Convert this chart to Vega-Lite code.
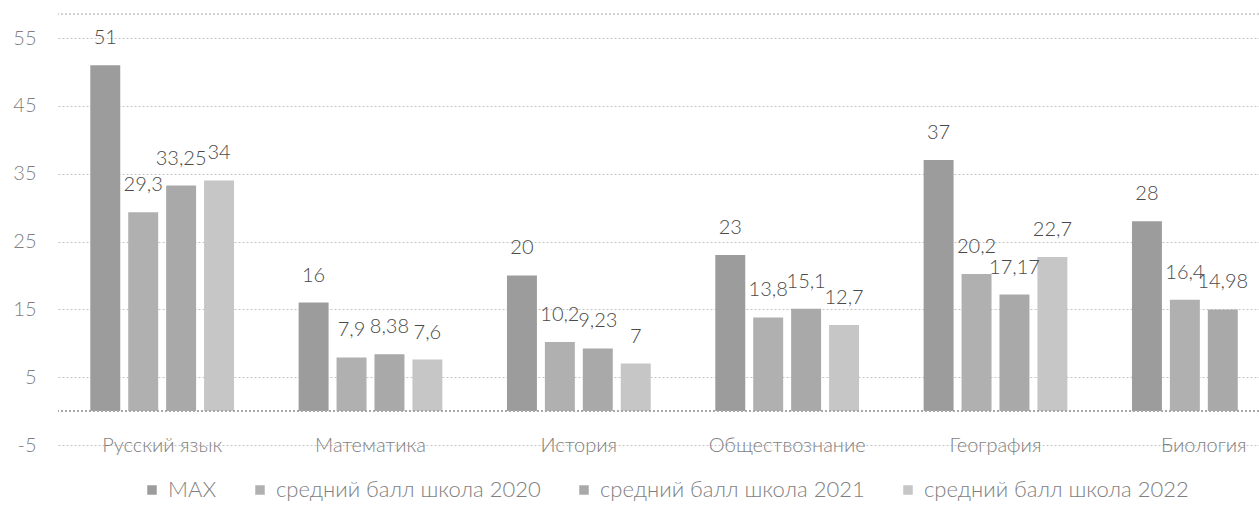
{
  "$schema": "https://vega.github.io/schema/vega-lite/v6.json",
  "width": 1201,
  "height": 407,
  "autosize": {"type": "none"},
  "padding": {"left": 58, "top": 38, "right": 0, "bottom": 67},
  "background": "white",
  "config": {
    "locale": {"number": {"decimal": ",", "thousands": " ", "grouping": [3], "currency": ["", ""], "minus": "-"}},
    "view": {"stroke": null},
    "font": "Lato",
    "text": {"fontWeight": 300},
    "axis": {"labelFontWeight": 300},
    "legend": {"labelFontWeight": 300}
  },
  "data": {"values": [
    {"subject": "Русский язык", "series": "MAX", "value": 51},
    {"subject": "Русский язык", "series": "средний балл школа 2020", "value": 29.3},
    {"subject": "Русский язык", "series": "средний балл школа 2021", "value": 33.25},
    {"subject": "Русский язык", "series": "средний балл школа 2022", "value": 34},
    {"subject": "Математика", "series": "MAX", "value": 16},
    {"subject": "Математика", "series": "средний балл школа 2020", "value": 7.9},
    {"subject": "Математика", "series": "средний балл школа 2021", "value": 8.38},
    {"subject": "Математика", "series": "средний балл школа 2022", "value": 7.6},
    {"subject": "История", "series": "MAX", "value": 20},
    {"subject": "История", "series": "средний балл школа 2020", "value": 10.2},
    {"subject": "История", "series": "средний балл школа 2021", "value": 9.23},
    {"subject": "История", "series": "средний балл школа 2022", "value": 7},
    {"subject": "Обществознание", "series": "MAX", "value": 23},
    {"subject": "Обществознание", "series": "средний балл школа 2020", "value": 13.8},
    {"subject": "Обществознание", "series": "средний балл школа 2021", "value": 15.1},
    {"subject": "Обществознание", "series": "средний балл школа 2022", "value": 12.7},
    {"subject": "География", "series": "MAX", "value": 37},
    {"subject": "География", "series": "средний балл школа 2020", "value": 20.2},
    {"subject": "География", "series": "средний балл школа 2021", "value": 17.17},
    {"subject": "География", "series": "средний балл школа 2022", "value": 22.7},
    {"subject": "Биология", "series": "MAX", "value": 28},
    {"subject": "Биология", "series": "средний балл школа 2020", "value": 16.4},
    {"subject": "Биология", "series": "средний балл школа 2021", "value": 14.98}
  ]},
  "layer": [
    {
      "mark": {"type": "rule", "color": "#d0d0d0", "strokeDash": [2, 2]},
      "encoding": {"y": {"datum": 58.5, "type": "quantitative"}}
    },
    {
      "mark": {"type": "bar"},
      "encoding": {
        "x": {
          "field": "subject", "type": "nominal", "sort": null,
          "scale": {"range": [0, 1250], "paddingInner": 0.31, "paddingOuter": 0.155},
          "axis": {"title": null, "labelFontSize": 20, "labelColor": "#7f7f7f", "ticks": false, "tickSize": 0, "domain": false, "labelPadding": 0, "labelBaseline": "middle", "labelAngle": 0, "grid": false}
        },
        "xOffset": {
          "field": "series", "type": "nominal",
          "sort": ["MAX", "средний балл школа 2020", "средний балл школа 2021", "средний балл школа 2022"],
          "scale": {"paddingInner": 0.21, "paddingOuter": 0}
        },
        "y": {
          "field": "value", "type": "quantitative",
          "scale": {"domain": [-5, 55], "nice": false, "zero": false},
          "axis": {"title": null, "values": [-5, 5, 15, 25, 35, 45, 55], "format": "d", "labelFontSize": 20, "labelColor": "#7f7f7f", "ticks": false, "tickSize": 0, "domain": false, "labelPadding": 22, "grid": true, "gridColor": "#c4c4c4", "gridDash": [2, 2]}
        },
        "y2": {"datum": 0},
        "color": {
          "field": "series", "type": "nominal",
          "scale": {
            "domain": ["MAX", "средний балл школа 2020", "средний балл школа 2021", "средний балл школа 2022"],
            "range": ["#9c9c9c", "#b0b0b0", "#a9a9a9", "#c6c6c6"]
          },
          "legend": {"orient": "none", "legendX": 83, "legendY": 441, "direction": "horizontal", "title": null, "symbolType": "square", "symbolSize": 90, "symbolStrokeWidth": 0, "labelFontSize": 22, "labelColor": "#7f7f7f", "labelLimit": 0, "columnPadding": 32, "labelOffset": 5, "padding": 0}
        }
      }
    },
    {
      "mark": {"type": "rule", "color": "#a8a8a8", "strokeDash": [2, 2]},
      "encoding": {"y": {"datum": 0, "type": "quantitative"}}
    },
    {
      "mark": {"type": "text", "baseline": "middle", "dy": -27, "fontSize": 20, "color": "#4a4a4a"},
      "encoding": {
        "x": {"field": "subject", "type": "nominal", "sort": null},
        "xOffset": {"field": "series", "type": "nominal", "sort": ["MAX", "средний балл школа 2020", "средний балл школа 2021", "средний балл школа 2022"]},
        "y": {"field": "value", "type": "quantitative"},
        "text": {"field": "value", "type": "quantitative", "format": ".4~r"}
      }
    }
  ]
}
